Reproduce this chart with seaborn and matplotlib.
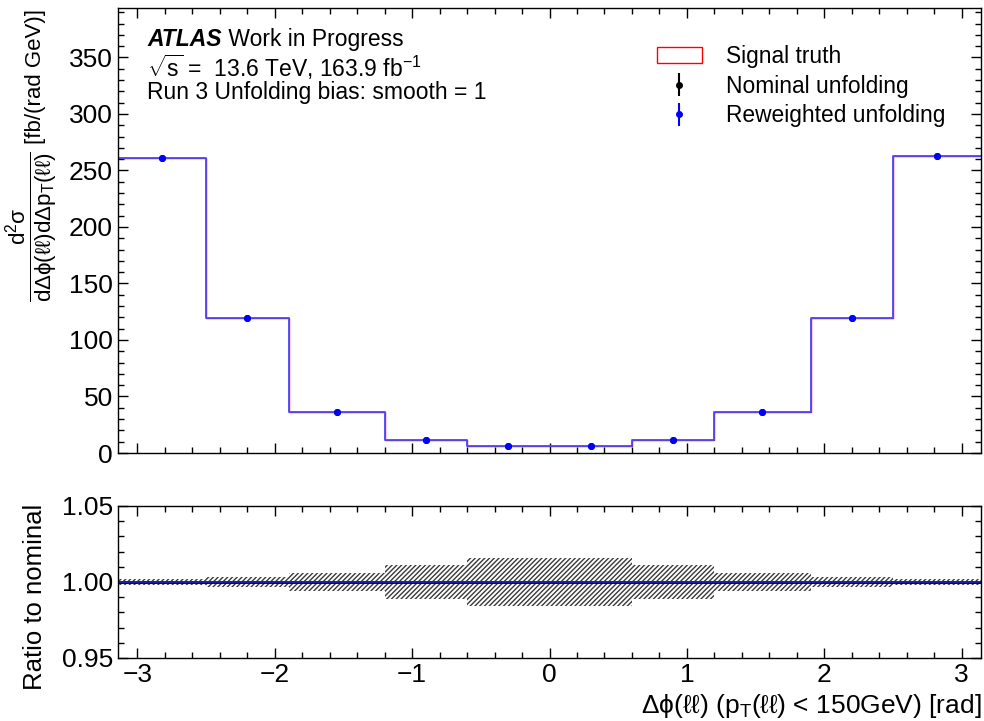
import numpy as np
import pandas as pd
import seaborn as sns
import matplotlib
matplotlib.use("Agg")
import matplotlib.pyplot as plt
from matplotlib.patches import Patch
from matplotlib.ticker import MultipleLocator, FormatStrFormatter, FuncFormatter

# Binning in delta phi(ll) [rad]
bin_edges = [-np.pi, -2.5, -1.9, -1.2, -0.6, 0.0, 0.6, 1.2, 1.9, 2.5, np.pi]

# Differential cross sections [fb/(rad GeV)]
signal_truth = [261.0, 119.5, 36.0, 11.5, 6.5, 6.5, 11.5, 36.0, 119.5, 262.5]
nominal_unf = [261.0, 119.5, 36.0, 11.5, 6.5, 6.5, 11.5, 36.0, 119.5, 262.5]
reweighted_unf = [261.0, 119.5, 36.0, 11.5, 6.5, 6.5, 11.5, 36.0, 119.5, 262.5]

# Relative uncertainty of the nominal unfolding
nominal_rel_unc = [0.0017, 0.003, 0.0062, 0.0115, 0.0155,
                   0.0155, 0.0115, 0.0062, 0.003, 0.0017]

edges = np.array(bin_edges)
centers = 0.5 * (edges[1:] + edges[:-1])
truth = np.array(signal_truth)
nom = np.array(nominal_unf)
rew = np.array(reweighted_unf)
rel = np.array(nominal_rel_unc)
ratio = rew / nom

# Step tables: each bin value repeated at the closing edge
steps = pd.DataFrame({
    "edge": edges,
    "truth": np.append(truth, truth[-1]),
    "rew": np.append(rew, rew[-1]),
    "ratio": np.append(ratio, ratio[-1]),
})
points = pd.DataFrame({"dphi": centers, "nom": nom, "rew": rew})

sns.set_theme(style="ticks")
plt.rcParams["font.family"] = ["Liberation Sans", "DejaVu Sans"]
plt.rcParams["mathtext.fontset"] = "custom"
plt.rcParams["mathtext.rm"] = "Liberation Sans"
plt.rcParams["mathtext.it"] = "Liberation Sans"
plt.rcParams["mathtext.bf"] = "Liberation Sans:bold"
plt.rcParams["hatch.linewidth"] = 1.0
plt.rcParams["text.color"] = "black"
plt.rcParams["axes.labelcolor"] = "black"

fig = plt.figure(figsize=(9.84, 7.21), dpi=100)
ax = fig.add_axes([0.1199, 0.3717, 0.8771, 0.6172])
ax2 = fig.add_axes([0.1199, 0.0874, 0.8771, 0.2108], sharex=ax)

# Main panel: truth histogram, reweighted histogram, unfolded points
sns.lineplot(data=steps, x="edge", y="truth", drawstyle="steps-post",
             estimator=None, color="red", linewidth=1.0, ax=ax)
sns.lineplot(data=steps, x="edge", y="rew", drawstyle="steps-post",
             estimator=None, color="#4a4aff", linewidth=1.3, ax=ax)
h_nom = ax.errorbar(points["dphi"], points["nom"], yerr=nom * rel, fmt="o",
                    color="black", markersize=4, elinewidth=1.5, capsize=0)
h_rew = ax.errorbar(points["dphi"], points["rew"], yerr=rew * rel, fmt="o",
                    color="blue", markersize=4, elinewidth=1.5, capsize=0)

ax.set_xlim(-np.pi, np.pi)
ax.set_ylim(0, 1.5 * truth.max())
ax.set_ylabel("")
ax.set_xlabel("")
ax.yaxis.set_major_locator(MultipleLocator(50))
ax.yaxis.set_minor_locator(MultipleLocator(10))
ax.xaxis.set_major_locator(MultipleLocator(1))
ax.xaxis.set_minor_locator(MultipleLocator(0.2))
ax.tick_params(labelbottom=False)

# ATLAS label block
lab_fs = 16.5
atlas = ax.text(0.034, 0.929, "ATLAS", transform=ax.transAxes, fontsize=lab_fs,
                fontweight="bold", fontstyle="italic", va="center", ha="left")
ax.annotate(" Work in Progress", xy=(1, 0), xycoords=atlas, fontsize=lab_fs,
            va="bottom", ha="left")
ax.text(0.034, 0.867, r"$\sqrt{s}$ =  13.6 TeV, 163.9 fb$^{-1}$",
        transform=ax.transAxes, fontsize=lab_fs, va="center", ha="left")
ax.text(0.034, 0.810, "Run 3 Unfolding bias: smooth = 1",
        transform=ax.transAxes, fontsize=lab_fs, va="center", ha="left")

handles = [Patch(facecolor="none", edgecolor="red", linewidth=1.0), h_nom, h_rew]
labels = ["Signal truth", "Nominal unfolding", "Reweighted unfolding"]
ax.legend(handles, labels, loc="upper left", bbox_to_anchor=(0.6135, 0.938),
          frameon=False, fontsize=16.4, handlelength=2.0, handletextpad=1.05,
          labelspacing=0.30, borderaxespad=0)

# Ratio panel: nominal uncertainty band and ratio
ax2.fill_between(edges, np.append(1 - rel, 1 - rel[-1]),
                 np.append(1 + rel, 1 + rel[-1]), step="post",
                 facecolor="none", edgecolor="#3a3a3a", hatch="/" * 7,
                 linewidth=0)
ax2.axhline(1.0, color="black", linewidth=2.0)
sns.lineplot(data=steps, x="edge", y="ratio", drawstyle="steps-post",
             estimator=None, color="#2020d0", linewidth=1.2, ax=ax2)
ax2.set_ylim(0.95, 1.05)
ax2.set_xlim(-np.pi, np.pi)
ax2.yaxis.set_major_locator(MultipleLocator(0.05))
ax2.yaxis.set_minor_locator(MultipleLocator(0.01))
ax2.xaxis.set_minor_locator(MultipleLocator(0.2))
ax2.set_ylabel("Ratio to nominal", fontsize=18.5)
ax2.yaxis.set_label_coords(-0.082, 0.40)
ax2.set_xlabel(r"Δϕ(ℓℓ) (p$_{\mathrm{T}}$(ℓℓ) < 150GeV) [rad]", fontsize=19,
               loc="right")

for a in (ax, ax2):
    a.tick_params(which="both", direction="in", top=True, right=True,
                  labelsize=19, colors="black")
    a.tick_params(which="major", length=7, width=1)
    a.tick_params(which="minor", length=4, width=1)
    for s in a.spines.values():
        s.set_linewidth(1.0)
        s.set_color("black")
ax2.yaxis.set_major_formatter(FormatStrFormatter("%.2f"))
ax2.xaxis.set_major_formatter(FuncFormatter(
    lambda v, p: f"{v:.0f}".replace("-", "\u2212")))

# Main panel y-axis title: fraction plus units
fig.text(32 / 984, 1 - 227 / 721,
         r"$\frac{\mathrm{d}^{2}\sigma}{\mathrm{d}\Delta\phi(\ell\ell)\mathrm{d}\Delta p_{\mathrm{T}}(\ell\ell)}$",
         rotation=90, fontsize=23, ha="center", va="center")
fig.text(35 / 984, 1 - 76 / 721, "[fb/(rad GeV)]", rotation=90, fontsize=16,
         ha="center", va="center")

fig.savefig("out.png", dpi=100)
